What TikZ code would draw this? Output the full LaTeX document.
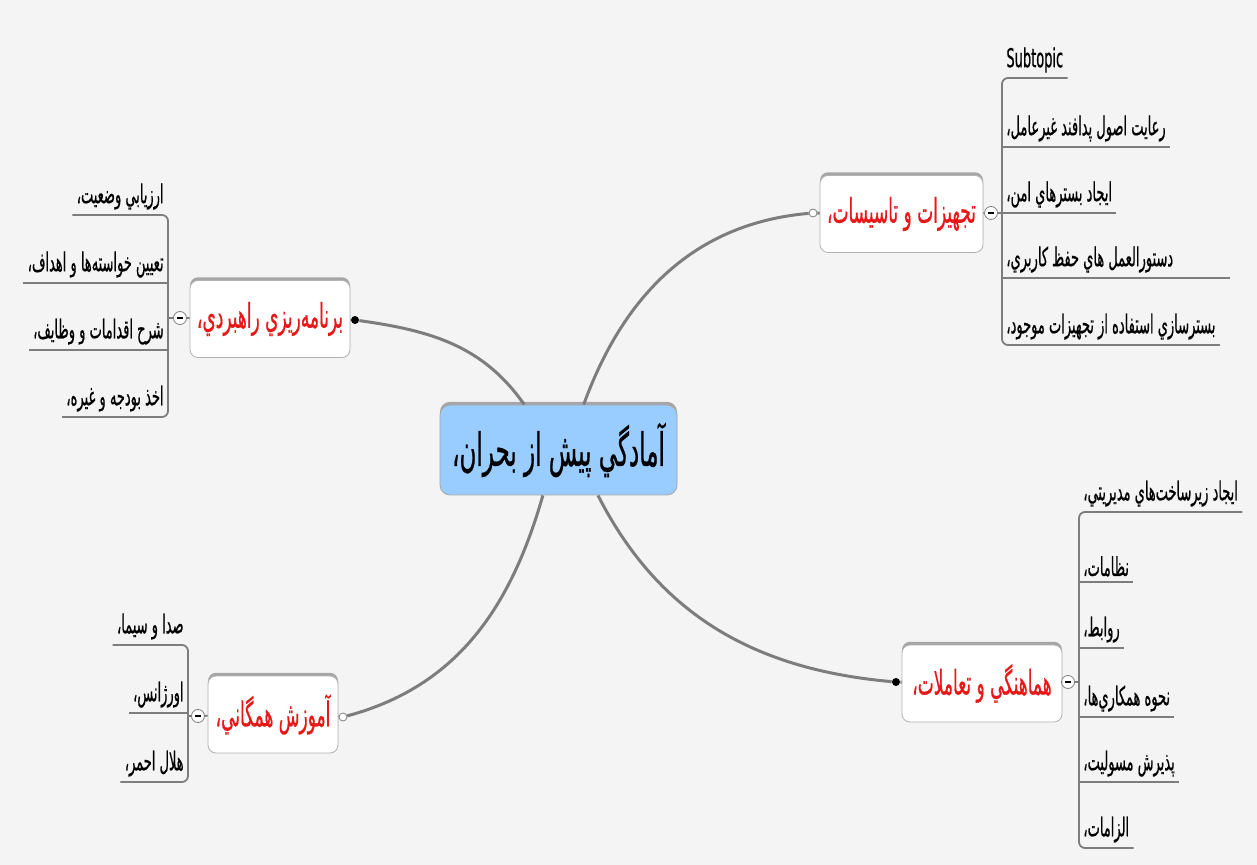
\documentclass[tikz,border=0pt]{standalone}
\usepackage{fontspec}
\usetikzlibrary{shadows}
\TeXXeTstate=1
\newfontfamily\farsi[Script=Arabic, FakeStretch=0.5, FakeBold=0.5]{DejaVu Sans}
\newcommand\prs[1]{{\farsi\beginR #1\endR}}
\definecolor{bgcol}{RGB}{244,244,244}
\definecolor{centfill}{RGB}{153,204,255}
\definecolor{linecol}{RGB}{125,125,125}
\definecolor{topicred}{RGB}{232,24,24}

\begin{document}
\begin{tikzpicture}[x=0.5pt, y=0.5pt,
    bough/.style={draw=linecol, line width=1.5pt},
    twig/.style={draw=linecol, line width=0.9pt},
    boxshade/.style={drop shadow={shadow xshift=0pt, shadow yshift=1.6pt, opacity=1, fill=gray!70}},
    centre/.style={draw=gray!70, fill=centfill, rounded corners=5pt, boxshade,
        minimum width=118.5pt, minimum height=45pt, font=\fontsize{23}{26}\selectfont},
    topic/.style={draw=gray!60, fill=white, rounded corners=4pt, boxshade,
        minimum height=38.5pt, text=topicred, font=\fontsize{17}{20}\selectfont},
    kidl/.style={anchor=south east, inner xsep=2pt, inner ysep=2.5pt, font=\fontsize{13}{15}\selectfont},
    kidr/.style={anchor=south west, inner xsep=2pt, inner ysep=2.5pt, font=\fontsize{13}{15}\selectfont},
    knob/.style={circle, draw=gray, fill=white, minimum size=6.5pt, inner sep=0pt},
    blackdot/.style={circle, fill=black, minimum size=4pt, inner sep=0pt},
    hollowdot/.style={circle, draw=gray, fill=white, minimum size=4pt, inner sep=0pt}
]
    % Background
    \fill[bgcol] (0,0) rectangle (1257,-865);
    \useasboundingbox (0,0) rectangle (1257,-865);

    % Central topic
    \node[centre] (centre) at (558.5,-450) {\prs{آمادگي پيش از بحران،}};

    % Main topics
    \node[topic, minimum width=80pt] (plan) at (270,-319) {\prs{برنامه^^^^200cريزي راهبردي،}};
    \node[topic, minimum width=81.5pt] (equip) at (901.5,-214) {\prs{تجهيزات و تاسيسات،}};
    \node[topic, minimum width=80pt] (coord) at (982,-683.5) {\prs{هماهنگي و تعاملات،}};
    \node[topic, minimum width=65pt] (edu) at (273,-714.5) {\prs{آموزش همگاني،}};

    % End points of the curves
    \node[blackdot] (plandot) at (355,-320) {};
    \node[hollowdot] (equipdot) at (813,-213) {};
    \node[blackdot] (coorddot) at (896,-682) {};
    \node[hollowdot] (edudot) at (343,-717) {};

    % Curves from the central topic
    \draw[bough] (plandot) to[out=-8, in=125] (centre.127);
    \draw[bough] (centre.61) to[out=70, in=185] (equipdot);
    \draw[bough] (centre.-49) to[out=-63, in=175] (coorddot);
    \draw[bough] (centre.-109) to[out=-106, in=15] (edudot);
    \draw[bough] (plandot) -- (plan);
    \draw[bough] (equipdot) -- (equip);
    \draw[bough] (coorddot) -- (coord);
    \draw[bough] (edudot) -- (edu);

    % Collapse knobs
    \node[knob] (planknob) at (180,-318) {\rule{3pt}{0.8pt}};
    \node[knob] (equipknob) at (991,-213) {\rule{3pt}{0.8pt}};
    \node[knob] (coordknob) at (1068,-682) {\rule{3pt}{0.8pt}};
    \node[knob] (eduknob) at (198,-716) {\rule{3pt}{0.8pt}};
    \coordinate (planjoin) at (168,-318);
    \coordinate (equipjoin) at (1002,-213);
    \coordinate (coordjoin) at (1079,-682);
    \coordinate (edujoin) at (188,-716);
    \foreach \t in {plan, equip, coord, edu}
        \draw[twig] (\t) -- (\t knob) -- (\t join);

    % Subtopics of plan
    \node[kidl] (plan1) at (168,-215) {\prs{ارزيابي وضعيت،}};
    \node[kidl] (plan2) at (168,-283) {\prs{تعيين خواسته^^^^200cها  و  اهداف،}};
    \node[kidl] (plan3) at (168,-350) {\prs{شرح اقدامات و وظايف،}};
    \node[kidl] (plan4) at (168,-417) {\prs{اخذ بودجه و غيره،}};
    \draw[twig, rounded corners=3pt] (plan1.south west) -- (plan1.south east) -- (plan4.south east) -- (plan4.south west);
    \foreach \k in {2,3}
        \draw[twig] (plan\k.south west) -- (plan\k.south east);

    % Subtopics of equip
    \node[kidr] (equip1) at (1002,-78) {\farsi Subtopic};
    \node[kidr] (equip2) at (1002,-147) {\prs{رعايت اصول پدافند غيرعامل،}};
    \node[kidr] (equip3) at (1002,-213) {\prs{ايجاد بسترهاي امن،}};
    \node[kidr] (equip4) at (1002,-278) {\prs{دستورالعمل هاي  حفظ  کاربري،}\hspace*{26pt}};
    \node[kidr] (equip5) at (1002,-345) {\prs{بسترسازي استفاده از تجهيزات موجود،}};
    \draw[twig, rounded corners=3pt] (equip1.south east) -- (equip1.south west) -- (equip5.south west) -- (equip5.south east);
    \foreach \k in {2,3,4}
        \draw[twig] (equip\k.south west) -- (equip\k.south east);

    % Subtopics of coord
    \node[kidr] (coord1) at (1079,-512) {\prs{ايجاد زيرساخت^^^^200cهاي  مديريتي،}};
    \node[kidr] (coord2) at (1079,-582) {\prs{نظامات،}};
    \node[kidr] (coord3) at (1079,-648) {\prs{روابط،}};
    \node[kidr] (coord4) at (1079,-717) {\prs{نحوه همکاري^^^^200cها،}};
    \node[kidr] (coord5) at (1079,-782) {\prs{پذيرش مسوليت،}};
    \node[kidr] (coord6) at (1079,-848) {\prs{الزامات،}};
    \draw[twig, rounded corners=3pt] (coord1.south east) -- (coord1.south west) -- (coord6.south west) -- (coord6.south east);
    \foreach \k in {2,...,5}
        \draw[twig] (coord\k.south west) -- (coord\k.south east);

    % Subtopics of edu
    \node[kidl] (edu1) at (188,-645) {\prs{صدا و سيما،}};
    \node[kidl] (edu2) at (188,-713) {\prs{اورژانس،}};
    \node[kidl] (edu3) at (188,-782) {\prs{هلال احمر،}};
    \draw[twig, rounded corners=3pt] (edu1.south west) -- (edu1.south east) -- (edu3.south east) -- (edu3.south west);
    \draw[twig] (edu2.south west) -- (edu2.south east);
\end{tikzpicture}
\end{document}
